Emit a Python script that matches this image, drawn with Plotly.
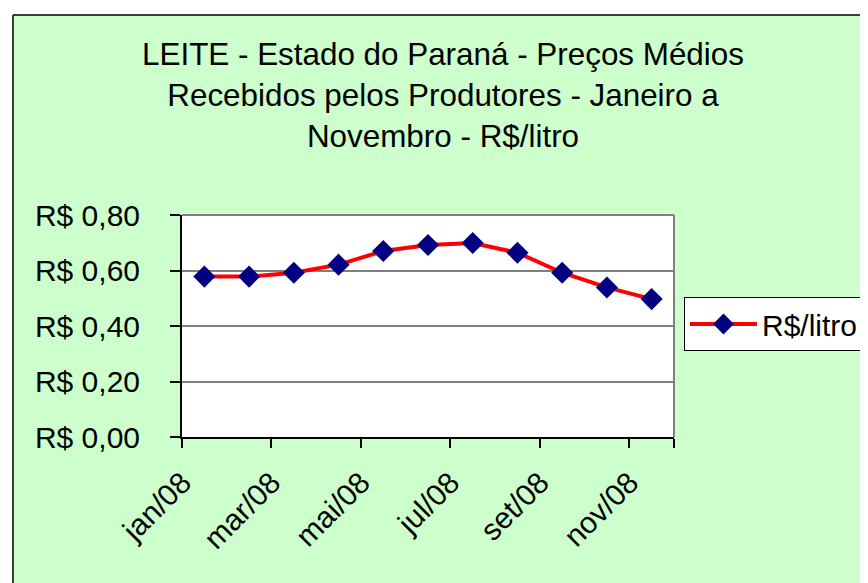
import plotly.graph_objects as go

months = ["jan/08", "fev/08", "mar/08", "abr/08", "mai/08", "jun/08",
          "jul/08", "ago/08", "set/08", "out/08", "nov/08"]
precos = [0.578, 0.578, 0.592, 0.621, 0.670, 0.692, 0.699, 0.664, 0.592, 0.539, 0.497]
y_ticks = [0.0, 0.2, 0.4, 0.6, 0.8]
y_labels = ["R$ 0,00", "R$ 0,20", "R$ 0,40", "R$ 0,60", "R$ 0,80"]
x_labels = ["jan/08", "mar/08", "mai/08", "jul/08", "set/08", "nov/08"]
series_name = "R$/litro"
title_text = ("LEITE - Estado do Paraná - Preços Médios<br>"
              "Recebidos pelos Produtores - Janeiro a<br>Novembro - R$/litro")

OFF = 8  # page body margin
W, H = 868 - OFF, 583 - OFF
L, R, T, B = 182 - OFF, 674 - OFF, 215 - OFF, 437 - OFF
pw, ph = R - L, B - T

FONT = "Liberation Sans, Arial, sans-serif"


def px_x(v):
    return (v - OFF - L) / pw


def px_y(v):
    return (B - (v - OFF)) / ph


def cx(v):
    return (v - OFF) / W


def cy(v):
    return 1 - (v - OFF) / H


fig = go.Figure()
fig.add_trace(go.Scatter(
    x=months, y=precos, mode="lines+markers", name=series_name,
    line=dict(color="#FF0000", width=4),
    marker=dict(symbol="diamond", size=17, color="#000080",
                line=dict(width=0)),
))

fig.update_layout(
    width=W, height=H,
    margin=dict(l=L, r=W - R, t=T, b=H - B, pad=0, autoexpand=False),
    paper_bgcolor="#CCFFCC",
    plot_bgcolor="#FFFFFF",
    font=dict(family=FONT, size=30, color="#000000"),
    title=dict(text=title_text, x=cx(443), xanchor="center",
               xref="container", yref="container",
               y=cy(65), yanchor="top",
               font=dict(family=FONT, size=31.4, color="#000000")),
    showlegend=True,
    legend=dict(x=cx(684), y=cy(324), xref="container", yref="container",
                xanchor="left", yanchor="middle",
                bgcolor="#FFFFFF", bordercolor="#000000",
                borderwidth=1, font=dict(family=FONT, size=30),
                orientation="h", entrywidth=220, entrywidthmode="pixels",
                itemwidth=67),
    xaxis=dict(
        type="category", categoryorder="array", categoryarray=months,
        range=[-0.5, len(months) - 0.5],
        tickmode="array", tickvals=x_labels, ticktext=x_labels,
        tickangle=-45, ticks="outside", ticklen=9, tickson="boundaries",
        tickcolor="#000000", tickwidth=1.5,
        ticklabelshift=-22, ticklabelstandoff=14,
        showgrid=False, showline=True, linecolor="#000000", linewidth=2,
        mirror=False, zeroline=False, automargin=False,
        tickfont=dict(family=FONT, size=30),
    ),
    yaxis=dict(
        range=[0, 0.8], tickmode="array", tickvals=y_ticks, ticktext=y_labels,
        ticks="outside", ticklen=10, tickcolor="#000000", tickwidth=1.5,
        ticklabelstandoff=24, automargin=False,
        showgrid=True, gridcolor="#808080", gridwidth=2,
        showline=True, linecolor="#000000", linewidth=2,
        zeroline=False, tickfont=dict(family=FONT, size=30),
    ),
)

# plot-area top/right border (gray)
fig.add_shape(type="line", xref="paper", yref="paper", x0=0, x1=1, y0=1, y1=1,
              line=dict(color="#808080", width=2))
fig.add_shape(type="line", xref="paper", yref="paper", x0=1, x1=1, y0=0, y1=1,
              line=dict(color="#808080", width=2))

# white strips outside chart area + black chart border
fig.add_shape(type="rect", xref="paper", yref="paper",
              x0=px_x(-20), x1=px_x(900), y0=px_y(15), y1=px_y(-20),
              fillcolor="#FFFFFF", line=dict(width=0), layer="above")
fig.add_shape(type="rect", xref="paper", yref="paper",
              x0=px_x(-20), x1=px_x(13), y0=px_y(600), y1=px_y(-20),
              fillcolor="#FFFFFF", line=dict(width=0), layer="above")
fig.add_shape(type="line", xref="paper", yref="paper",
              x0=px_x(13), x1=px_x(900), y0=px_y(15), y1=px_y(15),
              line=dict(color="#000000", width=1.5), layer="above")
fig.add_shape(type="line", xref="paper", yref="paper",
              x0=px_x(13), x1=px_x(13), y0=px_y(15), y1=px_y(600),
              line=dict(color="#000000", width=1.5), layer="above")

fig.write_html("out.html")
